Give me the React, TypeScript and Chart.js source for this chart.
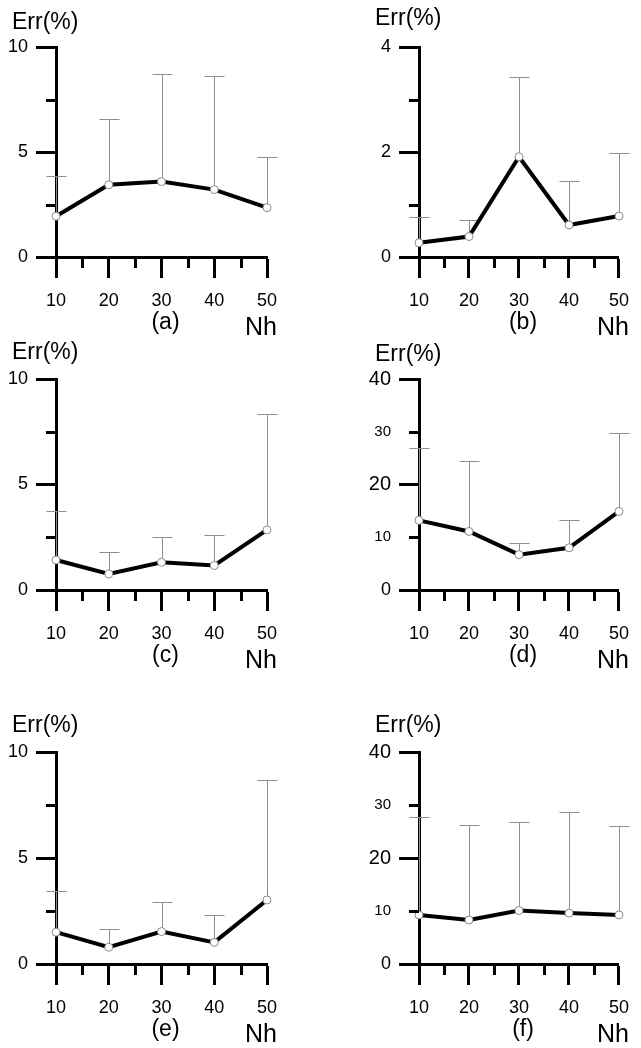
import React, { useEffect, useRef } from "react";
import { Chart, registerables } from "chart.js";

Chart.register(...registerables);

const FONT = '"Liberation Sans", Arial, Helvetica, sans-serif';

// x axis: Nh
const NH = [10, 20, 30, 40, 50];
const X_TICKS = [10, 15, 20, 25, 30, 35, 40, 45, 50];
const X_LABELS = ["10", "", "20", "", "30", "", "40", "", "50"];
const X_MAJOR = [10, 20, 30, 40, 50];

// series: mean error and upper end of the error bar
const errA = [1.94, 3.44, 3.59, 3.21, 2.35];
const upA = [3.87, 6.59, 8.71, 8.62, 4.78];
const errB = [0.27, 0.39, 1.91, 0.61, 0.78];
const upB = [0.77, 0.7, 3.42, 1.44, 1.99];
const errC = [1.42, 0.76, 1.31, 1.16, 2.85];
const upC = [3.73, 1.82, 2.5, 2.61, 8.32];
const errD = [13.2, 11.1, 6.7, 8.0, 14.9];
const upD = [27.0, 24.5, 8.9, 13.3, 29.8];
const errE = [1.5, 0.79, 1.53, 1.02, 3.02];
const upE = [3.45, 1.64, 2.91, 2.3, 8.69];
const errF = [9.26, 8.3, 10.1, 9.6, 9.26];
const upF = [27.8, 26.3, 26.8, 28.7, 26.1];

// y ticks
const Y10_TICKS = [0, 2.5, 5, 7.5, 10];
const Y10_LABELS = ["0", "", "5", "", "10"];
const Y10_MAJOR = [0, 5, 10];
const Y4_TICKS = [0, 1, 2, 3, 4];
const Y4_LABELS = ["0", "", "2", "", "4"];
const Y4_MAJOR = [0, 2, 4];
const Y40_TICKS = [0, 10, 20, 30, 40];
const Y40_LABELS = ["0", "10", "20", "30", "40"];
const Y40_MAJOR = [0, 20, 40];

type Panel = {
  tag: string;
  values: number[];
  upper: number[];
  yTicks: number[];
  yLabels: string[];
  yMajor: number[];
  mixedFont: boolean;
  left: number;
  top: number;
  w: number;
  h: number;
  area: { l: number; r: number; t: number; b: number };
  errDy: number;
};

const PANELS: Panel[] = [
  { tag: "(a)", values: errA, upper: upA, yTicks: Y10_TICKS, yLabels: Y10_LABELS, yMajor: Y10_MAJOR, mixedFont: false,
    left: 0, top: 0, w: 320, h: 336, area: { l: 56, r: 267, t: 47, b: 257 }, errDy: -24 },
  { tag: "(b)", values: errB, upper: upB, yTicks: Y4_TICKS, yLabels: Y4_LABELS, yMajor: Y4_MAJOR, mixedFont: false,
    left: 320, top: 0, w: 321, h: 336, area: { l: 99, r: 309, t: 47, b: 257 }, errDy: -28 },
  { tag: "(c)", values: errC, upper: upC, yTicks: Y10_TICKS, yLabels: Y10_LABELS, yMajor: Y10_MAJOR, mixedFont: false,
    left: 0, top: 336, w: 320, h: 364, area: { l: 56, r: 267, t: 43, b: 254 }, errDy: -26 },
  { tag: "(d)", values: errD, upper: upD, yTicks: Y40_TICKS, yLabels: Y40_LABELS, yMajor: Y40_MAJOR, mixedFont: true,
    left: 320, top: 336, w: 321, h: 364, area: { l: 99, r: 309, t: 43, b: 254 }, errDy: -24 },
  { tag: "(e)", values: errE, upper: upE, yTicks: Y10_TICKS, yLabels: Y10_LABELS, yMajor: Y10_MAJOR, mixedFont: false,
    left: 0, top: 700, w: 320, h: 348, area: { l: 56, r: 267, t: 52, b: 264 }, errDy: -26 },
  { tag: "(f)", values: errF, upper: upF, yTicks: Y40_TICKS, yLabels: Y40_LABELS, yMajor: Y40_MAJOR, mixedFont: true,
    left: 320, top: 700, w: 321, h: 348, area: { l: 99, r: 309, t: 52, b: 264 }, errDy: -26 },
];

function PanelChart({ p }: { p: Panel }) {
  const ref = useRef<HTMLCanvasElement>(null);
  useEffect(() => {
    const canvas = ref.current;
    if (!canvas) return;
    const isMajorY = (v: number) => p.yMajor.includes(v);
    const isMajorX = (v: number) => X_MAJOR.includes(v);

    const decor = {
      id: "decor",
      beforeDatasetsDraw(chart: any) {
        const { ctx } = chart;
        const xs = chart.scales.x;
        const ys = chart.scales.y;
        ctx.save();
        ctx.strokeStyle = "#8f8f8f";
        ctx.lineWidth = 1;
        p.values.forEach((v, i) => {
          const px = Math.round(xs.getPixelForValue(NH[i])) + 0.5;
          const y0 = ys.getPixelForValue(v);
          const y1 = Math.round(ys.getPixelForValue(p.upper[i])) + 0.5;
          ctx.beginPath();
          ctx.moveTo(px, y0);
          ctx.lineTo(px, y1);
          ctx.moveTo(px - 10, y1);
          ctx.lineTo(px + 10, y1);
          ctx.stroke();
        });
        ctx.restore();
      },
      afterDraw(chart: any) {
        const { ctx, chartArea } = chart;
        const xs = chart.scales.x;
        const ys = chart.scales.y;
        ctx.save();
        ctx.strokeStyle = "#000";
        ctx.lineWidth = 3;
        // minor y ticks
        p.yTicks.forEach((v) => {
          if (isMajorY(v)) return;
          const py = Math.round(ys.getPixelForValue(v)) + 0.5;
          ctx.beginPath();
          ctx.moveTo(chartArea.left - 10, py);
          ctx.lineTo(chartArea.left, py);
          ctx.stroke();
        });
        // minor x ticks
        X_TICKS.forEach((v) => {
          if (isMajorX(v)) return;
          const px = Math.round(xs.getPixelForValue(v)) + 0.5;
          ctx.beginPath();
          ctx.moveTo(px, chartArea.bottom);
          ctx.lineTo(px, chartArea.bottom + 11);
          ctx.stroke();
        });
        // texts
        ctx.fillStyle = "#000";
        ctx.textBaseline = "middle";
        ctx.textAlign = "left";
        ctx.font = `23px ${FONT}`;
        ctx.fillText("Err(%)", chartArea.left - 44, chartArea.top + p.errDy);
        ctx.textAlign = "center";
        ctx.font = `23px ${FONT}`;
        ctx.fillText(p.tag, xs.getPixelForValue(30) + 4, chartArea.bottom + 66);
        ctx.textAlign = "left";
        ctx.textBaseline = "alphabetic";
        ctx.font = `25px ${FONT}`;
        ctx.fillText("Nh", xs.getPixelForValue(50) - 22, chartArea.bottom + 78);
        ctx.restore();
      },
    };

    const chart = new Chart(canvas, {
      type: "line",
      data: {
        datasets: [
          {
            data: NH.map((x, i) => ({ x, y: p.values[i] })),
            borderColor: "#000",
            borderWidth: 4,
            pointRadius: 4,
            pointBorderColor: "#8a8a8a",
            pointBackgroundColor: "#fff",
            pointBorderWidth: 1,
            tension: 0,
            clip: false as any,
          },
        ],
      },
      options: {
        responsive: false,
        animation: false,
        events: [],
        layout: { padding: { top: p.area.t, right: p.w - p.area.r, bottom: 0, left: 0 } },
        plugins: { legend: { display: false }, tooltip: { enabled: false }, title: { display: false } },
        scales: {
          x: {
            type: "linear",
            min: 10,
            max: 50,
            afterBuildTicks: (s: any) => {
              s.ticks = X_TICKS.map((v) => ({ value: v }));
            },
            afterFit: (s: any) => {
              s.height = p.h - p.area.b;
            },
            grid: {
              display: true,
              drawOnChartArea: false,
              drawTicks: true,
              tickLength: 21,
              tickWidth: 3,
              tickColor: (c: any) => (isMajorX(c.tick?.value) ? "#000" : "rgba(0,0,0,0)"),
            },
            border: { display: true, width: 3, color: "#000" },
            ticks: {
              autoSkip: false,
              maxRotation: 0,
              minRotation: 0,
              padding: 12,
              color: "#000",
              font: { family: FONT, size: 18 },
              callback: (_v: any, i: number) => X_LABELS[i],
            },
          },
          y: {
            type: "linear",
            min: p.yTicks[0],
            max: p.yTicks[p.yTicks.length - 1],
            afterBuildTicks: (s: any) => {
              s.ticks = p.yTicks.map((v) => ({ value: v }));
            },
            afterFit: (s: any) => {
              s.width = p.area.l;
            },
            grid: {
              display: true,
              drawOnChartArea: false,
              drawTicks: true,
              tickLength: 20,
              tickWidth: 3,
              tickColor: (c: any) => (isMajorY(c.tick?.value) ? "#000" : "rgba(0,0,0,0)"),
            },
            border: { display: true, width: 3, color: "#000" },
            ticks: {
              autoSkip: false,
              padding: 8,
              color: "#000",
              font: (c: any) => {
                const v = c.tick?.value;
                let size = 18;
                if (p.mixedFont && v !== 0) size = isMajorY(v) ? 20 : 15;
                return { family: FONT, size };
              },
              callback: (_v: any, i: number) => p.yLabels[i],
            },
          },
        },
      },
      plugins: [decor],
    } as any);
    return () => chart.destroy();
  }, [p]);
  return (
    <canvas
      ref={ref}
      width={p.w}
      height={p.h}
      style={{ position: "absolute", left: p.left, top: p.top, width: p.w, height: p.h, display: "block" }}
    />
  );
}

export default function App() {
  return (
    <div style={{ position: "absolute", left: 0, top: 0, width: 641, height: 1048, background: "#fff", overflow: "hidden" }}>
      {PANELS.map((p) => (
        <PanelChart key={p.tag} p={p} />
      ))}
    </div>
  );
}
